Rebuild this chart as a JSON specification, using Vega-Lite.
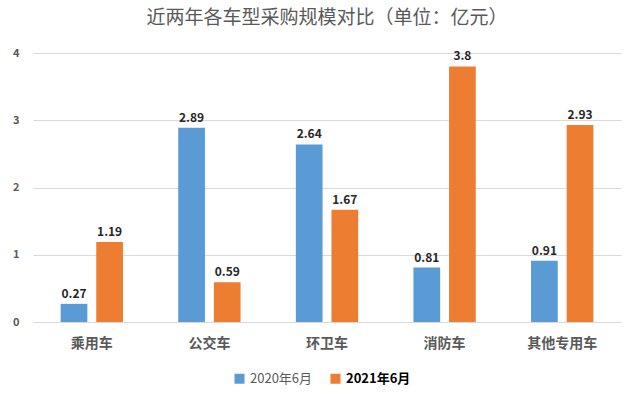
{
  "$schema": "https://vega.github.io/schema/vega-lite/v6.json",
  "width": 637,
  "height": 401,
  "autosize": {"type": "fit", "contains": "padding"},
  "padding": {"left": 12, "right": 16, "top": 9, "bottom": 51},
  "background": "white",
  "title": {
    "text": "近两年各车型采购规模对比（单位：亿元）",
    "font": "Noto Sans CJK SC",
    "fontSize": 19,
    "fontWeight": "normal",
    "color": "#595959",
    "offset": 19
  },
  "config": {
    "view": {"stroke": null},
    "font": "Noto Sans CJK SC"
  },
  "data": {
    "values": [
      {"cat": "乘用车", "series": "2020年6月", "value": 0.27},
      {"cat": "乘用车", "series": "2021年6月", "value": 1.19},
      {"cat": "公交车", "series": "2020年6月", "value": 2.89},
      {"cat": "公交车", "series": "2021年6月", "value": 0.59},
      {"cat": "环卫车", "series": "2020年6月", "value": 2.64},
      {"cat": "环卫车", "series": "2021年6月", "value": 1.67},
      {"cat": "消防车", "series": "2020年6月", "value": 0.81},
      {"cat": "消防车", "series": "2021年6月", "value": 3.8},
      {"cat": "其他专用车", "series": "2020年6月", "value": 0.91},
      {"cat": "其他专用车", "series": "2021年6月", "value": 2.93}
    ]
  },
  "encoding": {
    "x": {
      "field": "cat",
      "type": "nominal",
      "sort": null,
      "scale": {"paddingInner": 0.47, "paddingOuter": 0.235},
      "axis": {
        "title": null,
        "labelAngle": 0,
        "domain": false,
        "ticks": false,
        "labelFontSize": 14,
        "labelFontWeight": "bold",
        "labelColor": "#595959",
        "labelPadding": 14
      }
    },
    "xOffset": {"field": "series", "type": "nominal", "scale": {"paddingInner": 0.25}},
    "y": {
      "field": "value",
      "type": "quantitative",
      "scale": {"domain": [0, 4]},
      "axis": {
        "title": null,
        "values": [0, 1, 2, 3, 4],
        "domain": false,
        "ticks": false,
        "gridColor": "#d9d9d9",
        "labelColor": "#595959",
        "labelFontSize": 11,
        "labelFontWeight": "bold",
        "labelPadding": 14,
        "labelOverlap": false
      }
    }
  },
  "layer": [
    {
      "mark": {"type": "bar"},
      "encoding": {
        "color": {
          "field": "series",
          "type": "nominal",
          "scale": {"range": ["#5b9bd5", "#ed7d31"]},
          "legend": {
            "title": null,
            "orient": "none",
            "legendX": 200,
            "legendY": 319,
            "direction": "horizontal",
            "symbolType": "square",
            "symbolSize": 100,
            "symbolStrokeWidth": 0,
            "labelFontSize": 13,
            "labelColor": "#595959",
            "columnPadding": 16,
            "encode": {
              "labels": {
                "update": {
                  "fontWeight": {"signal": "datum.label == '2021年6月' ? 'bold' : 'normal'"},
                  "fill": {"signal": "datum.label == '2021年6月' ? '#000000' : '#595959'"}
                }
              }
            }
          }
        }
      }
    },
    {
      "mark": {"type": "text", "dy": -10, "fontWeight": "bold", "fontSize": 12, "color": "#262626"},
      "encoding": {
        "text": {"field": "value", "type": "quantitative"}
      }
    }
  ]
}
